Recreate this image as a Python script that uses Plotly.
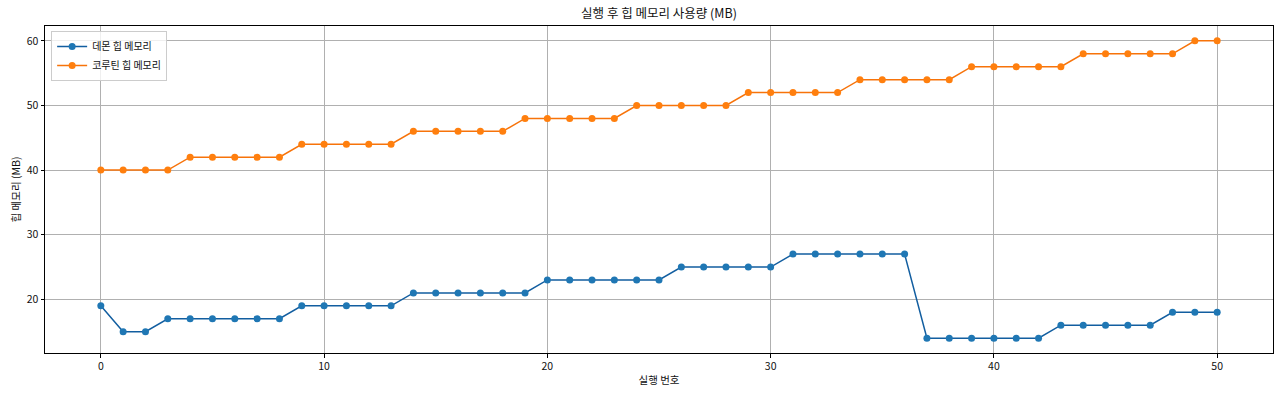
import plotly.graph_objects as go

runs = list(range(51))
daemon_heap = [19, 15, 15, 17, 17, 17, 17, 17, 17, 19, 19, 19, 19, 19,
               21, 21, 21, 21, 21, 21, 23, 23, 23, 23, 23, 23,
               25, 25, 25, 25, 25, 27, 27, 27, 27, 27, 27,
               14, 14, 14, 14, 14, 14, 16, 16, 16, 16, 16, 18, 18, 18]
coroutine_heap = [40, 40, 40, 40, 42, 42, 42, 42, 42, 44, 44, 44, 44, 44,
                  46, 46, 46, 46, 46, 48, 48, 48, 48, 48, 50, 50, 50, 50, 50,
                  52, 52, 52, 52, 52, 54, 54, 54, 54, 54, 56, 56, 56, 56, 56,
                  58, 58, 58, 58, 58, 60, 60]
x_ticks = [0, 10, 20, 30, 40, 50]
y_ticks = [20, 30, 40, 50, 60]

FONT = "Noto Sans CJK KR"

fig = go.Figure()
fig.add_trace(go.Scatter(
    x=runs, y=daemon_heap, mode="lines+markers", name="데몬 힙 메모리",
    line=dict(color="#125ea0", width=1.5),
    marker=dict(color="#1f77b4", size=7, line=dict(width=0)),
))
fig.add_trace(go.Scatter(
    x=runs, y=coroutine_heap, mode="lines+markers", name="코루틴 힙 메모리",
    line=dict(color="#f7730a", width=1.5),
    marker=dict(color="#ff7f0e", size=7, line=dict(width=0)),
))

axis_common = dict(
    showline=True, linecolor="black", linewidth=1, mirror=True,
    ticks="outside", ticklen=3.5, tickcolor="black", tickwidth=0.8,
    showgrid=True, gridcolor="#b0b0b0", gridwidth=0.8,
    zeroline=False, automargin=False,
    tickfont=dict(family=FONT, size=10.5, color="#111"),
)

fig.update_layout(
    width=1280, height=394,
    margin=dict(l=45, r=7, t=26, b=41),
    paper_bgcolor="white", plot_bgcolor="white",
    font=dict(family=FONT, color="#111"),
    title=dict(text="실행 후 힙 메모리 사용량 (MB)", x=0.5, xanchor="center",
               xref="paper",
               y=1 - 14 / 394, yanchor="middle",
               font=dict(family=FONT, size=12.5, color="#111")),
    xaxis=dict(range=[-2.5, 52.5], tickvals=x_ticks,
               title=dict(text="실행 번호", font=dict(family=FONT, size=10.5), standoff=4),
               **axis_common),
    yaxis=dict(range=[11.7, 62.3], tickvals=y_ticks,
               title=dict(text="힙 메모리 (MB)", font=dict(family=FONT, size=10.5), standoff=4),
               **axis_common),
    legend=dict(x=0.005, y=0.985, xanchor="left", yanchor="top",
                bgcolor="rgba(255,255,255,0.8)", bordercolor="#cccccc", borderwidth=1,
                font=dict(family=FONT, size=10, color="#111"),
                tracegroupgap=0, itemwidth=30),
    showlegend=True,
)

fig.write_html(
    "out.html",
    config={"displayModeBar": False},
    post_script="document.body.style.margin='0';document.body.style.overflow='hidden';",
)
